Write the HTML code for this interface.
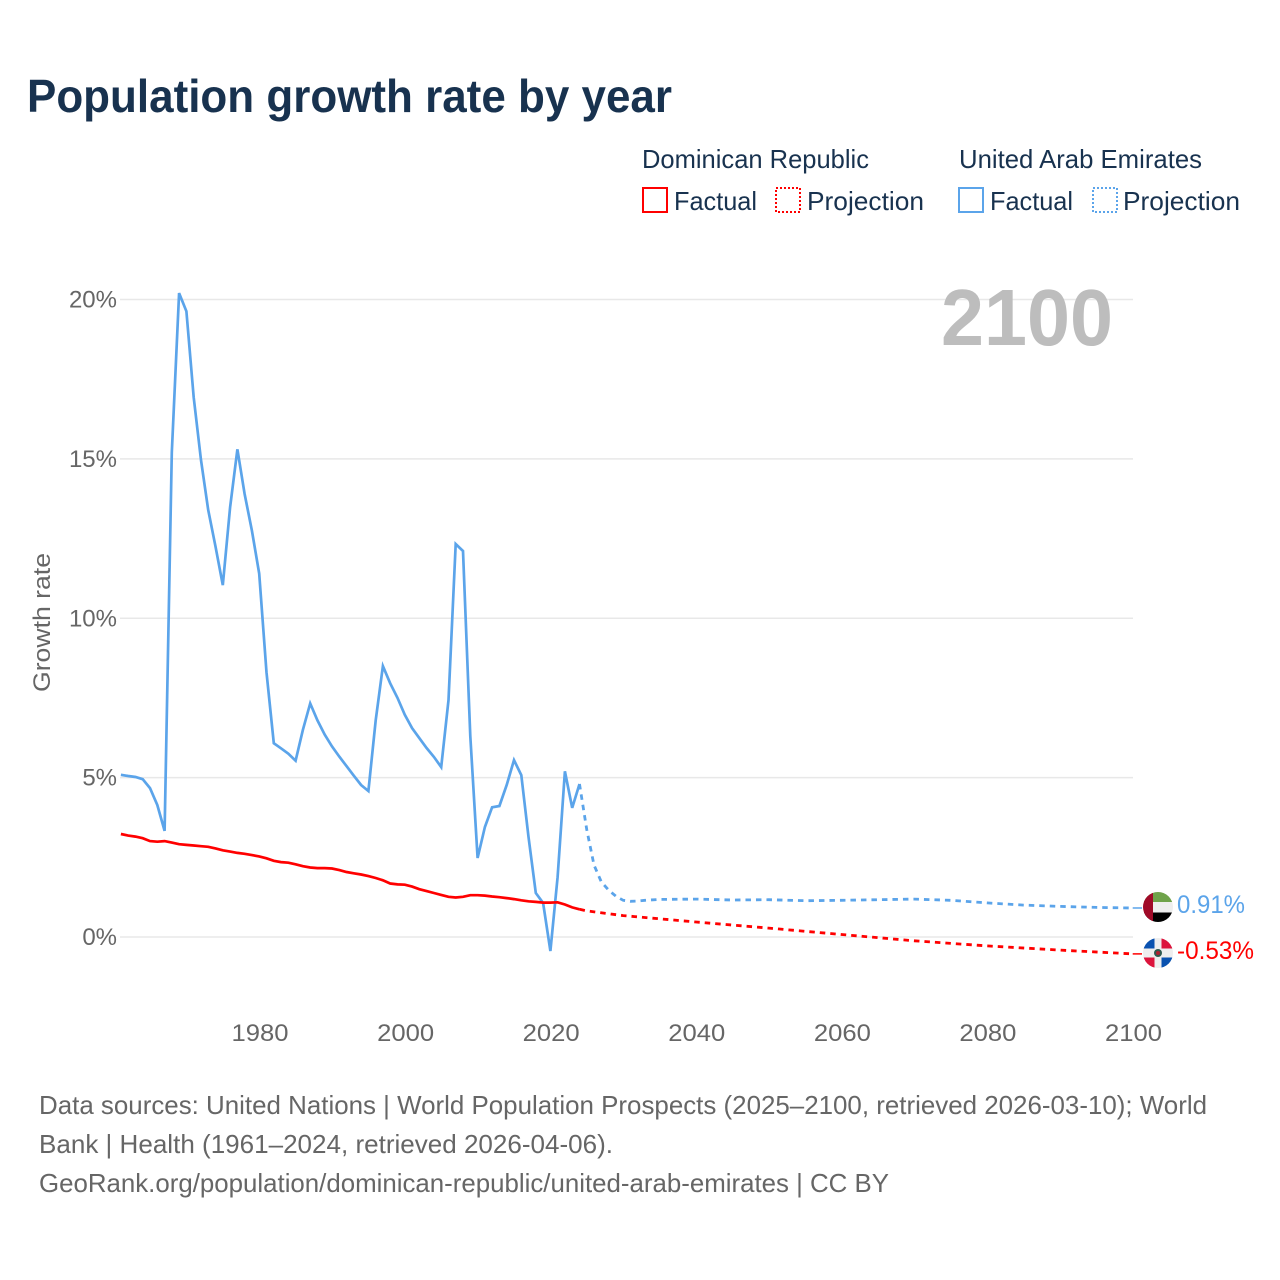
<!DOCTYPE html>
<html lang="en">
<head>
<meta charset="utf-8">
<title>Population growth rate by year</title>
<style>
html,body{margin:0;padding:0;background:#fff;width:1280px;height:1280px;overflow:hidden}
svg{display:block}
text{font-family:"Liberation Sans",sans-serif}
</style>
</head>
<body>
<svg id="chart" xmlns="http://www.w3.org/2000/svg" width="1280" height="1280" viewBox="0 0 1280 1280">
<defs>
<clipPath id="clip-top"><circle cx="1158" cy="907" r="15"/></clipPath>
<clipPath id="clip-bottom"><circle cx="1158" cy="953" r="15"/></clipPath>
</defs>
<rect width="1280" height="1280" fill="#fff"/>
<text x="27" y="112" font-size="46" font-weight="700" fill="#18324f" textLength="645" lengthAdjust="spacingAndGlyphs">Population growth rate by year</text>

<g font-size="26" fill="#18324f">
<text x="642" y="168" textLength="227" lengthAdjust="spacingAndGlyphs">Dominican Republic</text>
<text x="959" y="168" textLength="243" lengthAdjust="spacingAndGlyphs">United Arab Emirates</text>
<rect x="643" y="188" width="24" height="24" fill="none" stroke="#ff0000" stroke-width="2"/>
<text x="674" y="210" textLength="83" lengthAdjust="spacingAndGlyphs">Factual</text>
<rect x="776" y="188" width="24" height="24" fill="none" stroke="#ff0000" stroke-width="2" stroke-dasharray="2 2"/>
<text x="807" y="210" textLength="117" lengthAdjust="spacingAndGlyphs">Projection</text>
<rect x="959" y="188" width="24" height="24" fill="none" stroke="#5ba4ea" stroke-width="2"/>
<text x="990" y="210" textLength="83" lengthAdjust="spacingAndGlyphs">Factual</text>
<rect x="1093" y="188" width="24" height="24" fill="none" stroke="#5ba4ea" stroke-width="2" stroke-dasharray="2 2"/>
<text x="1123" y="210" textLength="117" lengthAdjust="spacingAndGlyphs">Projection</text>
</g>

<g id="grid"></g>
<g id="yticks"></g>
<g id="xticks"></g>
<text transform="translate(50,692) rotate(-90)" font-size="24" fill="#666" textLength="139" lengthAdjust="spacingAndGlyphs">Growth rate</text>
<text x="941" y="345" font-size="80" font-weight="700" fill="#bdbdbd" textLength="172" lengthAdjust="spacingAndGlyphs">2100</text>
<g id="series"></g>

<g clip-path="url(#clip-top)">
<rect x="1143" y="892" width="30" height="10" fill="#6fa34a"/>
<rect x="1143" y="902" width="30" height="10.5" fill="#eeeeee"/>
<rect x="1143" y="912.5" width="30" height="10" fill="#000"/>
<rect x="1143" y="892" width="10" height="30" fill="#a00a28"/>
</g>
<g clip-path="url(#clip-bottom)">
<rect x="1143" y="938" width="30" height="30" fill="#eeeeee"/>
<rect x="1143" y="938" width="11.5" height="10.5" fill="#0a52b0"/>
<rect x="1161.5" y="938" width="11.5" height="10.5" fill="#dc143c"/>
<rect x="1143" y="957.5" width="11.5" height="10.5" fill="#dc143c"/>
<rect x="1161.5" y="957.5" width="11.5" height="10.5" fill="#0a52b0"/>
<circle cx="1158" cy="953" r="4" fill="#2f5a50"/>
<circle cx="1158" cy="953" r="2" fill="#b02030"/>
</g>
<text x="1177" y="913" font-size="25" fill="#5ba4ea" textLength="68" lengthAdjust="spacingAndGlyphs">0.91%</text>
<text x="1177" y="959" font-size="25" fill="#ff0000" textLength="77" lengthAdjust="spacingAndGlyphs">-0.53%</text>

<g font-size="26" fill="#666">
<text x="39" y="1114" textLength="1168" lengthAdjust="spacingAndGlyphs">Data sources: United Nations | World Population Prospects (2025–2100, retrieved 2026-03-10); World</text>
<text x="39" y="1153" textLength="574" lengthAdjust="spacingAndGlyphs">Bank | Health (1961–2024, retrieved 2026-04-06).</text>
<text x="39" y="1192" textLength="850" lengthAdjust="spacingAndGlyphs">GeoRank.org/population/dominican-republic/united-arab-emirates | CC BY</text>
</g>
</svg>
<script>
var xTickYears = [1980, 2000, 2020, 2040, 2060, 2080, 2100];
var yTickValues = [0, 5, 10, 15, 20];

var factualStartYear = 1961;
var uaeFactual = [5.09,5.05,5.02,4.95,4.67,4.14,3.33,15.2,20.2,19.63,16.93,14.96,13.4,12.25,11.04,13.48,15.3,13.9,12.75,11.4,8.3,6.08,5.92,5.75,5.53,6.5,7.33,6.8,6.35,5.98,5.66,5.36,5.06,4.77,4.58,6.8,8.5,7.96,7.5,6.97,6.55,6.24,5.93,5.65,5.33,7.43,12.33,12.11,6.3,2.48,3.45,4.07,4.11,4.77,5.55,5.08,3.14,1.38,1.07,-0.44,1.88,5.2,4.05,4.8];
var drFactual = [3.23,3.18,3.15,3.10,3.01,2.99,3.01,2.96,2.91,2.89,2.87,2.85,2.83,2.78,2.72,2.68,2.64,2.61,2.57,2.53,2.47,2.39,2.35,2.33,2.28,2.22,2.18,2.16,2.16,2.15,2.10,2.04,2.0,1.96,1.91,1.85,1.78,1.68,1.65,1.64,1.58,1.50,1.44,1.38,1.32,1.26,1.24,1.26,1.31,1.31,1.30,1.27,1.25,1.22,1.19,1.15,1.12,1.10,1.08,1.08,1.09,1.02,0.93,0.87];

var uaeProjectionYears = [2024,2025,2026,2027,2028,2029,2030,2031,2032,2033,2035,2040,2045,2050,2055,2060,2065,2070,2075,2080,2085,2090,2095,2100];
var uaeProjection = [4.8,3.36,2.26,1.73,1.47,1.28,1.15,1.12,1.13,1.15,1.18,1.19,1.16,1.17,1.14,1.15,1.17,1.19,1.15,1.07,1.0,0.96,0.93,0.91];
var drProjectionYears = [2024,2025,2030,2040,2050,2060,2070,2080,2090,2100];
var drProjection = [0.87,0.82,0.67,0.47,0.28,0.08,-0.12,-0.28,-0.41,-0.53];

var uaeColor = '#5ba4ea';
var drColor = '#ff0000';
var ns = 'http://www.w3.org/2000/svg';

function xScale(year) { return 259.2 + (year - 1980) * (1132.7 - 259.2) / 120; }
function yScale(value) { return 937 - value * (937 - 299.5) / 20; }

function makeLine(years, values) {
  var pts = [];
  for (var i = 0; i < values.length; i++) {
    pts.push(xScale(years[i]).toFixed(1) + ',' + yScale(values[i]).toFixed(1));
  }
  return pts.join(' ');
}
function annualYears(start, count) {
  var out = [];
  for (var i = 0; i < count; i++) { out.push(start + i); }
  return out;
}

var gridGroup = document.getElementById('grid');
var yTickGroup = document.getElementById('yticks');
var xTickGroup = document.getElementById('xticks');
var seriesGroup = document.getElementById('series');

yTickValues.forEach(function (v) {
  var line = document.createElementNS(ns, 'line');
  
  
  line.setAttribute('x1', 120);
  line.setAttribute('x2', 1133);
  line.setAttribute('y1', yScale(v));
  line.setAttribute('y2', yScale(v));
  line.setAttribute('stroke', '#e8e8e8');
  line.setAttribute('stroke-width', '1.5');
  gridGroup.appendChild(line);

  var label = document.createElementNS(ns, 'text');
  
  
  label.setAttribute('x', 117);
  label.setAttribute('y', yScale(v) + 8);
  label.setAttribute('text-anchor', 'end');
  label.setAttribute('font-size', '24');
  label.setAttribute('fill', '#666');
  label.textContent = v + '%';
  yTickGroup.appendChild(label);
});

xTickYears.forEach(function (year) {
  var label = document.createElementNS(ns, 'text');
  
  
  label.setAttribute('x', xScale(year) + 0.8);
  label.setAttribute('y', 1041);
  label.setAttribute('text-anchor', 'middle');
  label.setAttribute('font-size', '24');
  label.setAttribute('fill', '#666');
  label.setAttribute('textLength', '57');
  label.setAttribute('lengthAdjust', 'spacingAndGlyphs');
  label.textContent = year;
  xTickGroup.appendChild(label);
});

function addSeries(name, years, values, color, dashed) {
  var line = document.createElementNS(ns, 'polyline');
  
  
  line.setAttribute('points', makeLine(years, values));
  line.setAttribute('fill', 'none');
  line.setAttribute('stroke', color);
  line.setAttribute('stroke-width', dashed ? '2.8' : '2.7');
  line.setAttribute('stroke-linejoin', 'miter');
  if (dashed) { line.setAttribute('stroke-dasharray', '5.5 5'); }
  seriesGroup.appendChild(line);
}

function addConnector(name, value, color) {
  var line = document.createElementNS(ns, 'line');
  
  
  line.setAttribute('x1', xScale(2100));
  line.setAttribute('x2', 1142);
  line.setAttribute('y1', yScale(value));
  line.setAttribute('y2', yScale(value));
  line.setAttribute('stroke', color);
  line.setAttribute('stroke-width', '1.5');
  seriesGroup.appendChild(line);
}

addSeries('uae-projection-line', uaeProjectionYears, uaeProjection, uaeColor, true);
addSeries('dominican-projection-line', drProjectionYears, drProjection, drColor, true);
addSeries('uae-factual-line', annualYears(factualStartYear, uaeFactual.length), uaeFactual, uaeColor, false);
addSeries('dominican-factual-line', annualYears(factualStartYear, drFactual.length), drFactual, drColor, false);
addConnector('uae-end-connector', uaeProjection[uaeProjection.length - 1], uaeColor);
addConnector('dominican-end-connector', drProjection[drProjection.length - 1], drColor);
</script>
</body>
</html>
